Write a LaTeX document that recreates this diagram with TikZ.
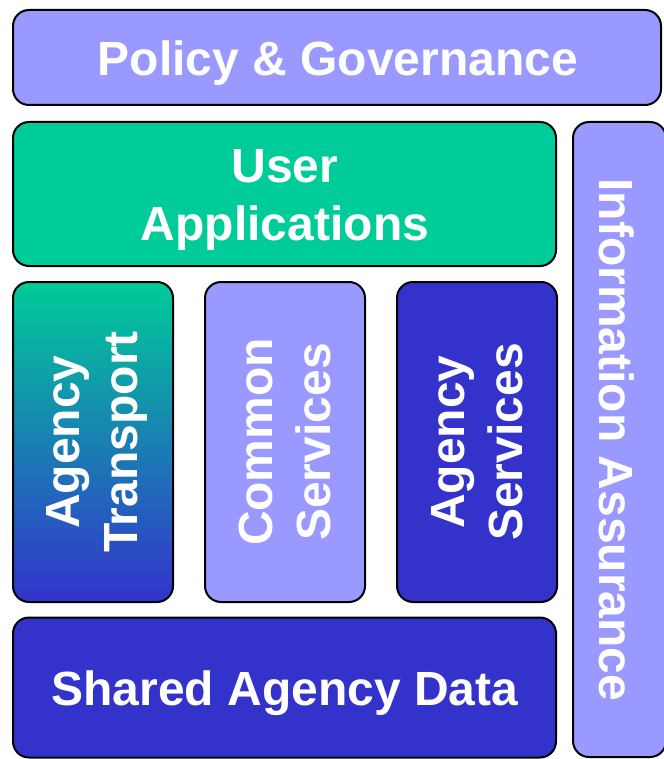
\documentclass[tikz,border=0pt]{standalone}
\usepackage{fontspec}
\setmainfont{Liberation Sans}
\definecolor{lav}{HTML}{9999FF}
\definecolor{grn}{HTML}{00CC99}
\definecolor{dblue}{HTML}{3333CC}
\begin{document}
\begin{tikzpicture}[x=1pt,y=-1pt,
  blk/.style={draw=black, line width=2pt, rounded corners=16pt, inner sep=0pt},
  htext/.style={text=white, font=\fontsize{48}{57.6}\selectfont\bfseries, align=center, inner sep=0pt},
  vtext/.style={htext, rotate=90},
  vtextdown/.style={htext, rotate=-90}]
\useasboundingbox (0,0) rectangle (663,759);
% top bar
\node[blk, fill=lav, minimum width=648pt, minimum height=95pt] (policy) at (337,57.5) {};
\node[htext] (policyt) at (338,63) {Policy \& Governance};
% user applications
\node[blk, fill=grn, minimum width=543pt, minimum height=144pt] (user) at (284.5,194) {};
\node[htext] (usert) at (285,200) {User\\Applications};
% info assurance
\node[blk, fill=lav, minimum width=93pt, minimum height=635pt] (ia) at (619.5,439.5) {};
\node[vtextdown] (iat) at (617,440) {Information Assurance};
% three columns
\node[blk, top color=grn, bottom color=dblue, minimum width=160pt, minimum height=320pt] (at) at (93,442) {};
\node[vtext] (att) at (97,442) {Agency\\Transport};
\node[blk, fill=lav, minimum width=160pt, minimum height=320pt] (cs) at (285,442) {};
\node[vtext] (cst) at (285,442) {Common\\Services};
\node[blk, fill=dblue, minimum width=160pt, minimum height=320pt] (as) at (477,442) {};
\node[vtext] (ast) at (477,442) {Agency\\Services};
% shared data
\node[blk, fill=dblue, minimum width=543pt, minimum height=140pt] (sd) at (284.5,687.5) {};
\node[htext] (sdt) at (285,693) {Shared Agency Data};
\end{tikzpicture}
\end{document}
